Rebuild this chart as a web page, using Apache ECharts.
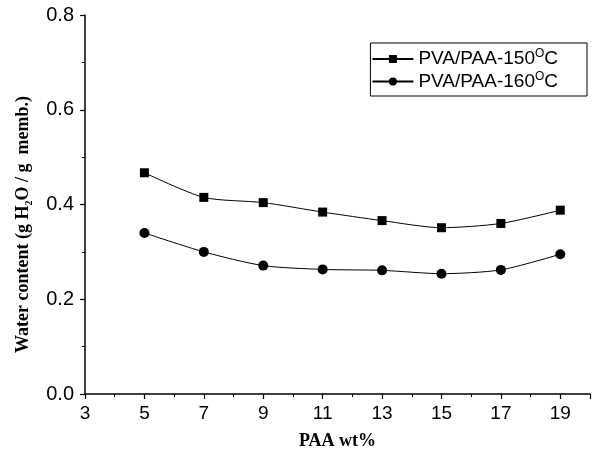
<!DOCTYPE html>
<html>
<head>
<meta charset="utf-8">
<script src="https://cdn.jsdelivr.net/npm/echarts@6/dist/echarts.min.js"></script>
<style>
  html, body { margin: 0; padding: 0; background: #fff; }
  #chart { width: 595px; height: 455px; }
</style>
</head>
<body>
<div id="chart"></div>
<script>
const paaWt = [5, 7, 9, 11, 13, 15, 17, 19]
const water150 = [0.467, 0.415, 0.404, 0.384, 0.366, 0.351, 0.360, 0.388]
const water160 = [0.340, 0.300, 0.271, 0.263, 0.261, 0.254, 0.262, 0.295]
const seriesNames = ['PVA/PAA-150{sup|O}C', 'PVA/PAA-160{sup|O}C']

const pairs = (ys) => paaWt.map((x, i) => [x, ys[i]])

const chart = echarts.init(document.getElementById('chart'), null, { renderer: 'canvas' })

const axisCommon = {
  axisLine: { show: true, lineStyle: { color: '#000', width: 1.5 } },
  axisTick: { show: true, inside: false, length: 5, lineStyle: { color: '#000', width: 1.2 } },
  minorTick: { show: true, splitNumber: 2, length: 3, lineStyle: { color: '#000', width: 1 } },
  splitLine: { show: false },
}

chart.setOption({
  animation: false,
  backgroundColor: '#fff',
  grid: { left: 85, right: 5, top: 15, bottom: 61, containLabel: false },
  legend: {
    right: 8,
    top: 43,
    orient: 'vertical',
    backgroundColor: '#fff',
    borderColor: '#000',
    borderWidth: 1,
    borderRadius: 0,
    padding: [5, 29, 5, 1],
    itemWidth: 41,
    itemHeight: 10,
    itemGap: 2,
    data: seriesNames,
    formatter: (name) => name,
    textStyle: {
      fontFamily: 'Liberation Sans',
      fontSize: 19,
      color: '#000',
      rich: {
        sup: { fontFamily: 'Liberation Sans', fontSize: 12, color: '#000', verticalAlign: 'bottom', padding: [0, 0, 10, 0] },
      },
    },
  },
  xAxis: {
    type: 'value',
    min: 3,
    max: 20,
    interval: 2,
    name: 'PAA wt%',
    nameLocation: 'middle',
    nameGap: 38,
    nameTextStyle: { fontFamily: 'Liberation Serif', fontWeight: 'bold', fontSize: 18, color: '#000' },
    axisLabel: { fontFamily: 'Liberation Sans', fontSize: 19, color: '#000', margin: 10, showMaxLabel: false },
    ...axisCommon,
  },
  yAxis: {
    type: 'value',
    min: 0,
    max: 0.8,
    interval: 0.2,
    name: 'Water content (g H{sub|2}O / g  memb.)',
    nameLocation: 'middle',
    nameGap: 51,
    nameTextStyle: {
      fontFamily: 'Liberation Serif',
      fontWeight: 'bold',
      fontSize: 18,
      color: '#000',
      padding: [0, 40, 0, 0],
      rich: {
        sub: { fontFamily: 'Liberation Serif', fontWeight: 'bold', fontSize: 10, color: '#000', verticalAlign: 'top', padding: [11, 0, 0, 0] },
      },
    },
    axisLabel: {
      fontFamily: 'Liberation Sans',
      fontSize: 20,
      color: '#000',
      margin: 11,
      formatter: (v) => v.toFixed(1),
    },
    ...axisCommon,
  },
  series: [
    {
      name: seriesNames[0],
      type: 'line',
      data: pairs(water150),
      smooth: 0.25,
      symbol: 'rect',
      symbolSize: 9,
      lineStyle: { color: '#000', width: 1 },
      itemStyle: { color: '#000' },
    },
    {
      name: seriesNames[1],
      type: 'line',
      data: pairs(water160),
      smooth: 0.25,
      symbol: 'circle',
      symbolSize: 10,
      lineStyle: { color: '#000', width: 1 },
      itemStyle: { color: '#000' },
    },
  ],
})
</script>
</body>
</html>
